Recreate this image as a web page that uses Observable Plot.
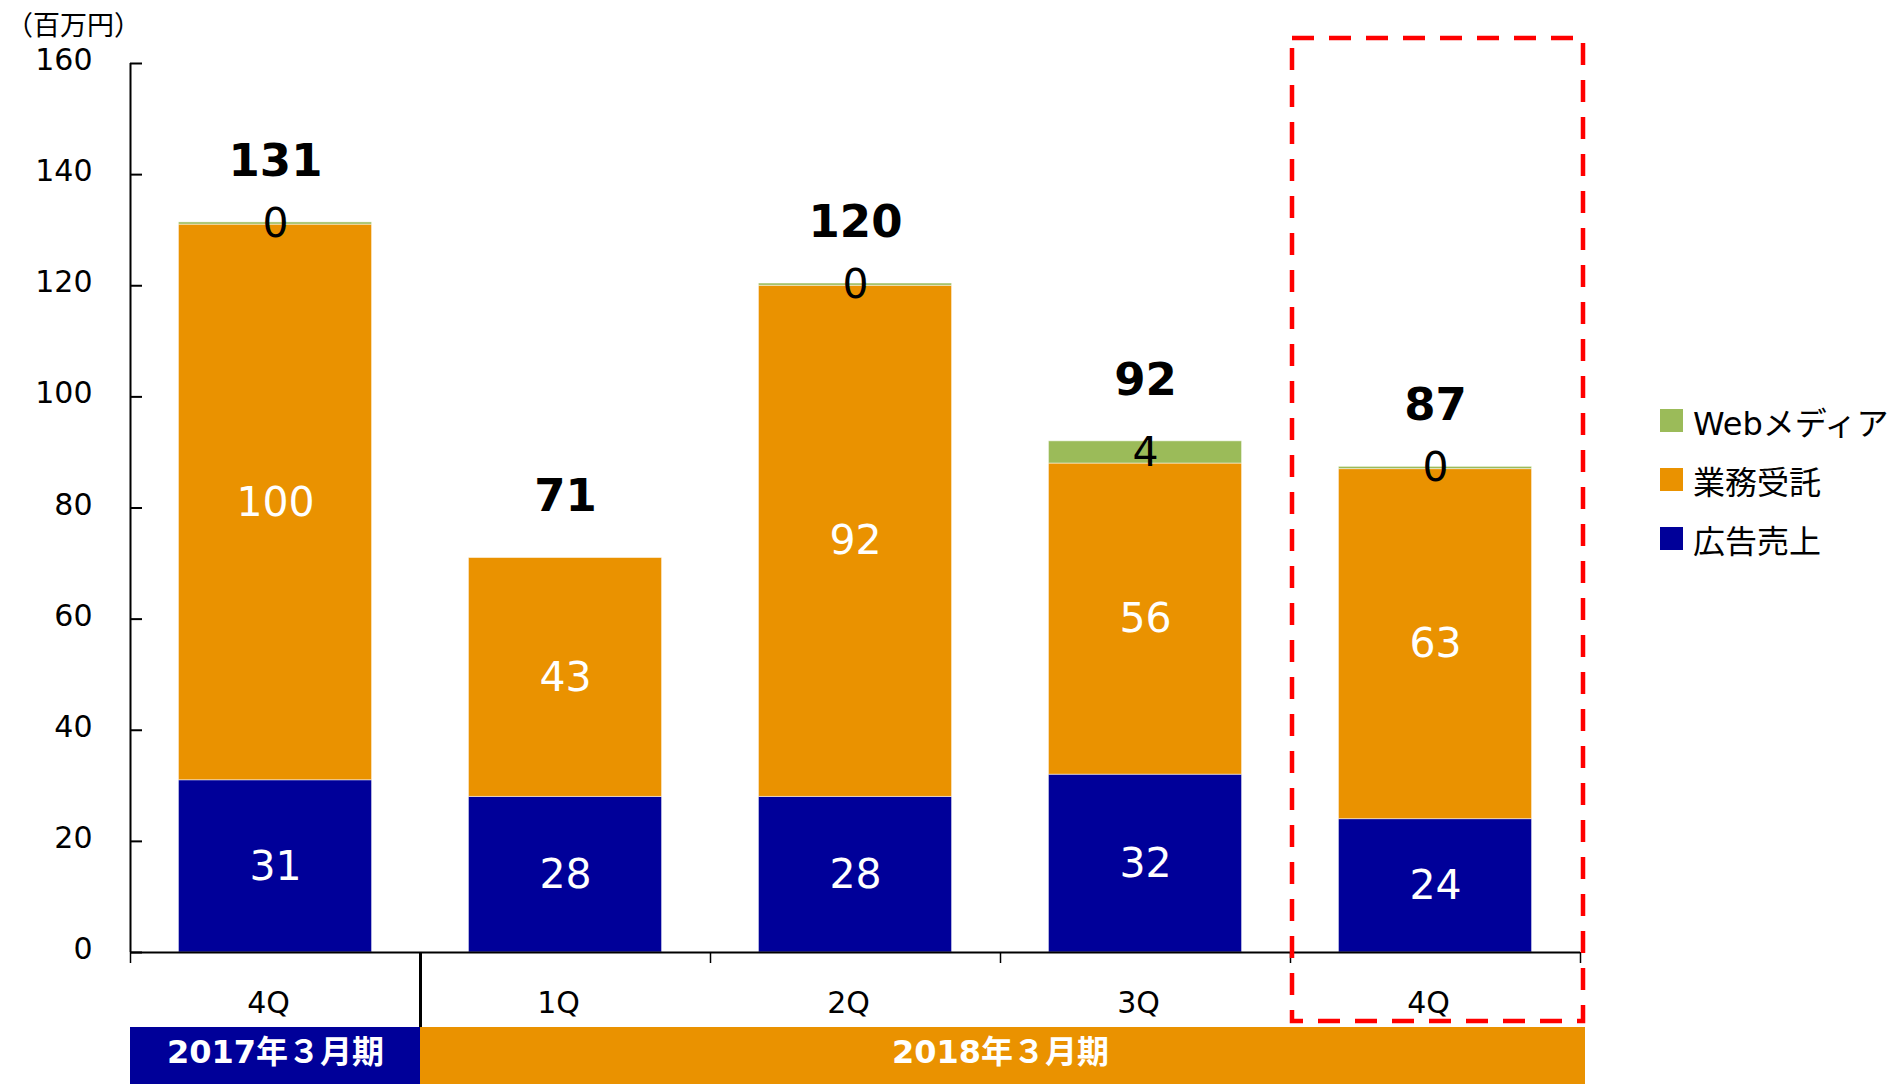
<!DOCTYPE html>
<html>
<head>
<meta charset="utf-8">
<script src="https://cdn.jsdelivr.net/npm/d3@7"></script>
<script src="https://cdn.jsdelivr.net/npm/@observablehq/plot@0.6"></script>
<style>
  html, body { margin: 0; padding: 0; background: #fff; }
  #wrap { position: relative; width: 1892px; height: 1084px; font-family: "DejaVu Sans", "Noto Sans CJK JP", sans-serif; color: #000; }
  #wrap svg { display: block; overflow: visible; }
  #unit { position: absolute; left: 6px; top: 10px; font-size: 27px; line-height: 1; font-family: "Noto Sans CJK JP", sans-serif; }
  #legend { position: absolute; left: 1660px; top: 391px; }
  .item { display: flex; align-items: center; height: 59px; font-size: 32px; font-family: "DejaVu Sans", "Noto Sans CJK JP", sans-serif; }
  .sw { width: 23px; height: 23px; margin-right: 10px; flex: none; }
</style>
</head>
<body>
<div id="wrap">
  <div id="chart"></div>
  <div id="header"></div>
  <div id="unit"></div>
  <div id="legend"></div>
</div>
<script>
// ---- data ----
const quarters = ["4Q", "1Q", "2Q", "3Q", "4Q"];
const adSales = [31, 28, 28, 32, 24];          // 広告売上
const contracts = [100, 43, 92, 56, 63];       // 業務受託
const webMedia = [0.4, null, 0.4, 4, 0.4];     // Webメディア (labelled 0 where tiny)
const totals = [131, 71, 120, 92, 87];
const seriesNames = ["広告売上", "業務受託", "Webメディア"];
const legendOrder = ["Webメディア", "業務受託", "広告売上"];
const seriesColors = ["#000099", "#EA9200", "#9BBB59"];
const yTicks = [0, 20, 40, 60, 80, 100, 120, 140, 160];
const fiscalYears = ["2017年３月期", "2018年３月期"];
const fyFirstQuarter = [0, 1];
const fyLastQuarter = [0, 4];
const fyColors = ["#000099", "#EA9200"];
const highlightQuarter = 4;
const unitLabel = "（百万円）";

// ---- build stacked rows ----
const idx = d3.range(quarters.length);
const seriesValues = [adSales, contracts, webMedia];
const rows = [];
const tops = [];
idx.forEach(i => {
  let base = 0;
  seriesNames.forEach((s, k) => {
    const v = seriesValues[k][i];
    if (v == null) return;
    rows.push({i, series: s, y1: base, y2: base + v, value: v});
    base += v;
  });
  tops.push(base);
});

const FONT = '"DejaVu Sans", "Noto Sans CJK JP", sans-serif';
const xDomain = [-0.5, quarters.length - 0.5];
const half = 0.333;
const boundaries = d3.range(quarters.length + 1).map(k => k - 0.5);

const chart = Plot.plot({
  width: 1892,
  height: 1027,
  marginLeft: 130,
  marginRight: 312,
  marginTop: 63,
  marginBottom: 75,
  style: {fontFamily: FONT, fontSize: "29px", background: "transparent", overflow: "visible"},
  x: {type: "linear", domain: xDomain, axis: null},
  y: {domain: [0, 160], axis: null},
  color: {domain: seriesNames, range: seriesColors},
  marks: [
    Plot.rect(rows, {x1: d => d.i - half, x2: d => d.i + half, y1: "y1", y2: "y2", fill: "series", stroke: "#fff", strokeOpacity: 0.5, strokeWidth: 1}),
    // axes lines
    Plot.ruleX([xDomain[0]], {y1: 0, y2: 160, strokeWidth: 2}),
    Plot.ruleY(yTicks, {y: d => d, x1: xDomain[0], x2: xDomain[0], insetRight: -12, strokeWidth: 2}),
    Plot.axisY({ticks: yTicks, tickSize: 0, tickPadding: 38, fontSize: 30, dy: -3}),
    Plot.ruleY([0], {x1: xDomain[0], x2: xDomain[1], strokeWidth: 2}),
    Plot.ruleX(boundaries.filter(b => b !== 0.5), {x: d => d, y1: 0, y2: 0, insetBottom: -11, strokeWidth: 1.5}),
    Plot.ruleX([0.5], {x: d => d, y1: 0, y2: 0, insetBottom: -75, strokeWidth: 3}),
    // quarter labels
    Plot.text(idx, {x: d => d, y: 0, text: i => quarters[i], dy: 51, dx: -7, fontSize: 30, lineAnchor: "middle"}),
    // segment labels
    Plot.text(rows.filter(d => d.series !== "Webメディア"), {x: "i", y: d => (d.y1 + d.y2) / 2, text: d => String(Math.round(d.value)), fill: "white", fontSize: 41, lineAnchor: "middle"}),
    Plot.text(rows.filter(d => d.series === "Webメディア"), {x: "i", y: d => (d.y1 + d.y2) / 2, text: d => String(Math.round(d.value)), fill: "black", fontSize: 41, lineAnchor: "middle"}),
    // totals
    Plot.text(idx, {x: d => d, y: i => tops[i], text: i => String(totals[i]), dy: -61, fontSize: 45, fontWeight: "bold", lineAnchor: "middle"}),
    // highlight box
    Plot.rect([highlightQuarter], {x1: d => d - 0.5, x2: d => d + 0.5, insetTop: -25, insetBottom: -69, insetLeft: 2, insetRight: -3, fill: "none", stroke: "#FF0000", strokeWidth: 4.5, strokeDasharray: "22,15"})
  ]
});
document.getElementById("chart").appendChild(chart);

const fyRows = fiscalYears.map((name, k) => ({name, a: fyFirstQuarter[k], b: fyLastQuarter[k], color: fyColors[k]}));
const header = Plot.plot({
  width: 1892,
  height: 57,
  marginLeft: 130,
  marginRight: 312,
  marginTop: 0,
  marginBottom: 0,
  style: {fontFamily: FONT, background: "transparent", overflow: "visible"},
  x: {type: "linear", domain: xDomain, axis: null},
  y: {axis: null},
  marks: [
    Plot.rect(fyRows, {x1: d => d.a - 0.5, x2: d => d.b + 0.5, fill: d => d.color, insetRight: -5}),
    Plot.text(fyRows, {x: d => (d.a + d.b) / 2, text: "name", fill: "white", fontWeight: "bold", fontSize: 32, frameAnchor: "middle", dy: -3})
  ]
});
document.getElementById("header").appendChild(header);

document.getElementById("unit").textContent = unitLabel;
const legend = document.getElementById("legend");
legendOrder.forEach(name => {
  const item = document.createElement("div");
  item.className = "item";
  const sw = document.createElement("div");
  sw.className = "sw";
  sw.style.background = seriesColors[seriesNames.indexOf(name)];
  const t = document.createElement("span");
  t.textContent = name;
  item.appendChild(sw);
  item.appendChild(t);
  legend.appendChild(item);
});
</script>
</body>
</html>
